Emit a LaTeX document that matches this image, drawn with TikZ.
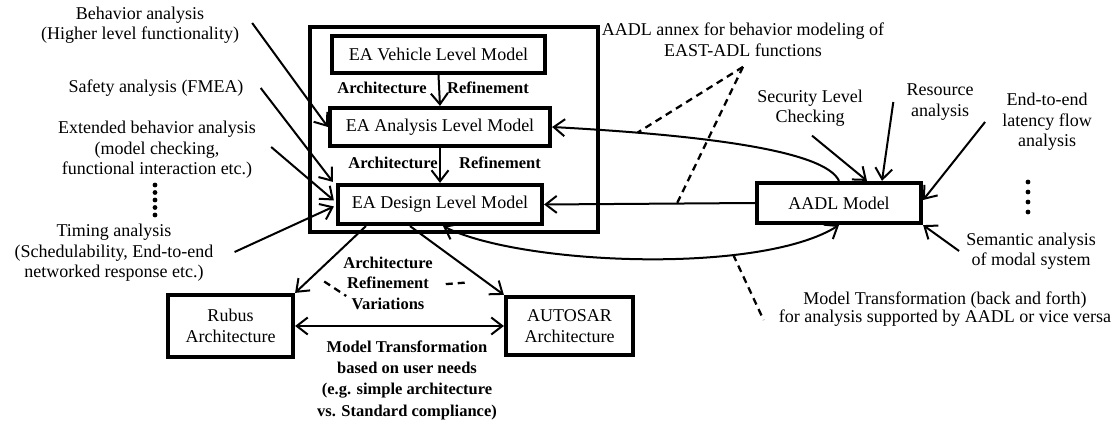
\documentclass[tikz,border=0pt]{standalone}
\usepackage{fontspec}
\setmainfont{Liberation Serif}
\newcommand\plainFont{\fontsize{18}{20.5}\selectfont}
\newcommand\strongFont{\bfseries\fontsize{16.5}{20.5}\selectfont}
\usetikzlibrary{arrows.meta,positioning}
\tikzset{
  modelBox/.style={%
    draw,
    rectangle,
    line width=4.2pt,
    align=center,
    inner sep=2pt},
  frameBox/.style={%
    draw,
    rectangle,
    line width=4.2pt},
  analysisText/.style={%
    align=center,
    inner sep=1pt,
    font=\plainFont},
  refineText/.style={%
    align=center,
    inner sep=1pt,
    font=\strongFont},
  flowArrow/.style={%
    line width=2pt,
    -{Straight Barb[length=11pt,width=17pt]}},
  bothArrow/.style={%
    line width=2pt,
    {Straight Barb[length=11pt,width=17pt]}-{Straight Barb[length=11pt,width=17pt]}},
  annexLink/.style={%
    line width=2.3pt,
    dash pattern=on 7pt off 5pt},
  }

\begin{document}
\begin{tikzpicture}[x=1pt,y=-1pt,every node/.style={font=\plainFont}]
  \useasboundingbox (0,0) rectangle (1111,427);
  % EAST-ADL levels
  \node[frameBox,minimum width=288pt,minimum height=205pt] (ea frame) at (454,129.5) {};
  \node[modelBox,minimum width=213pt,minimum height=37pt] (vehicle model) at (438.5,54.5) {EA Vehicle Level Model};
  \node[modelBox,minimum width=220pt,minimum height=38pt] (analysis model) at (440,127) {EA Analysis Level Model};
  \node[modelBox,minimum width=204pt,minimum height=39pt] (design model) at (440,204.5) {EA Design Level Model};
  \node[refineText] (arch 1) at (382,88) {Architecture};
  \node[refineText] (refine 1) at (488,88) {Refinement};
  \node[refineText] (arch 2) at (393,163) {Architecture};
  \node[refineText] (refine 2) at (500,163) {Refinement};
  \draw[flowArrow] (vehicle model.south) -- (analysis model.north);
  \draw[flowArrow] (analysis model.south) -- (design model.north);
  % target architectures
  \node[modelBox,minimum width=125pt,minimum height=62pt] (rubus) at (230.5,326) {Rubus\\Architecture};
  \node[modelBox,minimum width=127pt,minimum height=58pt] (autosar) at (569.5,326) {AUTOSAR\\Architecture};
  \node[modelBox,minimum width=164pt,minimum height=40pt] (aadl model) at (839,203) {AADL Model};
  % analyses on the left
  \node[analysisText] (behavior) at (140,25) {Behavior analysis\\(Higher level functionality)};
  \node[analysisText] (safety) at (156,88) {Safety analysis (FMEA)};
  \node[analysisText] (extended) at (157,150) {Extended behavior analysis\\(model checking,\\functional interaction etc.)};
  \node[analysisText] (timing) at (114,253) {Timing analysis\\(Schedulability, End-to-end\\networked response etc.)};
  \foreach \dy in {0,...,4}
    \fill (155,185+7.5*\dy) circle (2.4pt);
  \draw[flowArrow] ([xshift=12pt,yshift=2pt]behavior.east) -- (analysis model.west);
  \draw[flowArrow] ([xshift=16pt]safety.east) -- ([xshift=-3pt,yshift=1pt]design model.north west);
  \draw[flowArrow] ([xshift=14pt,yshift=3pt]extended.east) -- ([xshift=-2pt,yshift=4pt]design model.west);
  \draw[flowArrow] ([xshift=20pt,yshift=1pt]timing.east) -- ([xshift=-2pt,yshift=-2pt]design model.west);
  % analyses on the right
  \node[analysisText] (security) at (810,108) {Security Level\\Checking};
  \node[analysisText] (resource) at (940,102) {Resource\\analysis};
  \node[analysisText] (latency) at (1047,122) {End-to-end\\latency flow\\analysis};
  \node[analysisText] (semantic) at (1031,251) {Semantic analysis\\of modal system};
  \foreach \dy in {0,...,3}
    \fill (1028,182+10*\dy) circle (2.4pt);
  \draw[flowArrow] ([xshift=2pt,yshift=-8pt]security.south) -- ([xshift=28pt]aadl model.north);
  \draw[flowArrow] ([xshift=-12pt]resource.west) -- ([xshift=43pt]aadl model.north);
  \draw[flowArrow] ([xshift=-16pt]latency.west) -- ([yshift=3pt]aadl model.east);
  \draw[flowArrow] ([xshift=-6pt]semantic.west) -- (aadl model.south east);
  % transformations
  \draw[flowArrow] (aadl model.north) .. controls (825,150) and (700,135) .. coordinate[pos=0.8] (upper mark) (analysis model.east);
  \draw[flowArrow] (aadl model.west) -- coordinate[pos=0.37] (design mark) (design model.east);
  \draw[bothArrow] ([xshift=3pt]design model.south) .. controls (520,265) and (760,275) .. coordinate[pos=0.7] (lower mark) (aadl model.south);
  \draw[flowArrow] ([xshift=30pt]design model.south west) -- coordinate[pos=0.73] (rubus mark) (rubus.north east);
  \draw[flowArrow] ([xshift=-30pt]design model.south) -- coordinate[pos=0.8] (autosar mark) (autosar.north west);
  \draw[bothArrow] (rubus.east) -- (autosar.west);
  % labels of the transformations
  \node[refineText] (variations) at (388,283) {Architecture\\Refinement\\Variations};
  \node[refineText,font=\bfseries\fontsize{16.5}{21.3}\selectfont] (user needs) at (407,380) {Model Transformation\\based on user needs\\(e.g. simple architecture\\vs. Standard compliance)};
  \node[analysisText] (annex) at (743,40) {AADL annex for behavior modeling of\\EAST-ADL functions};
  \node[analysisText,font=\fontsize{18}{18}\selectfont] (back forth) at (945,309) {Model Transformation (back and forth)\\for analysis supported by AADL or vice versa};
  \coordinate[below=9pt of annex] (annex tip);
  \draw[annexLink] (annex tip) -- (upper mark);
  \draw[annexLink] (annex tip) -- (design mark);
  \draw[annexLink] (lower mark) -- ([xshift=-14pt,yshift=-11pt]back forth.west);
  \draw[annexLink,shorten <=12pt] (rubus mark) -- ([xshift=4pt,yshift=-13pt]variations.west);
  \draw[annexLink,shorten <=12pt,shorten >=16pt] ([yshift=-2pt]variations.east) -- (autosar mark);
\end{tikzpicture}
\end{document}
